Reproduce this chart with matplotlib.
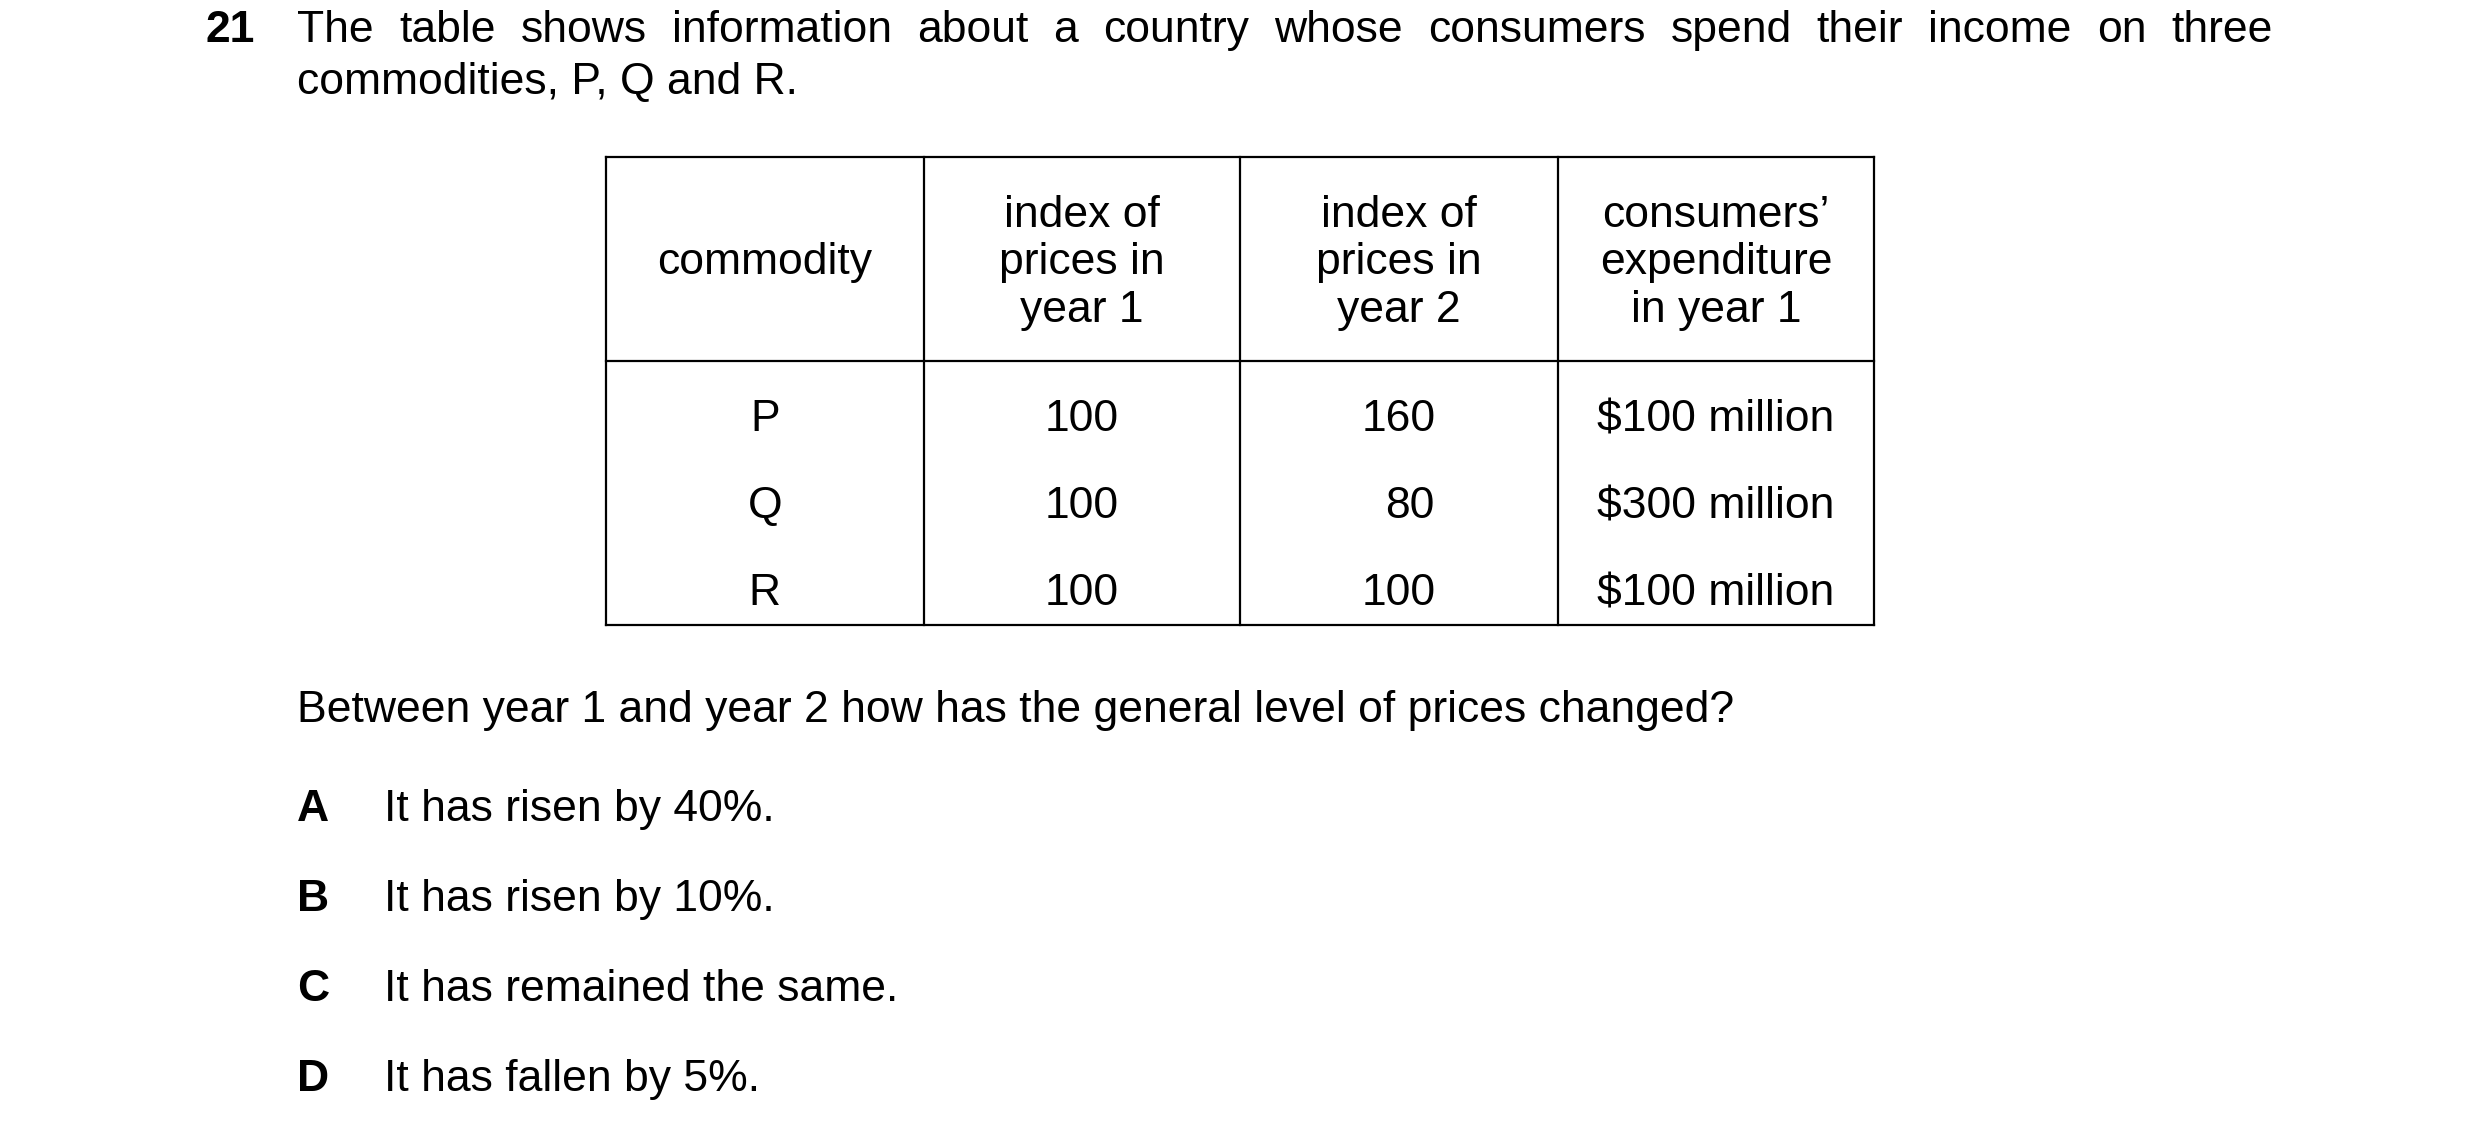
import matplotlib
matplotlib.use("Agg")
import matplotlib.pyplot as plt
from matplotlib.lines import Line2D

plt.rcParams['font.family'] = ['Liberation Sans', 'DejaVu Sans']

# content
q_number = "21"
intro_line1 = "The table shows information about a country whose consumers spend their income on three"
intro_line2 = "commodities, P, Q and R."
headers = ["commodity", "index of\nprices in\nyear 1", "index of\nprices in\nyear 2",
           "consumers’\nexpenditure\nin year 1"]
commodities = ["P", "Q", "R"]
index_year1 = [100, 100, 100]
index_year2 = [160, 80, 100]
expenditure = ["$100 million", "$300 million", "$100 million"]
question = "Between year 1 and year 2 how has the general level of prices changed?"
option_letters = ["A", "B", "C", "D"]
option_texts = ["It has risen by 40%.", "It has risen by 10%.",
                "It has remained the same.", "It has fallen by 5%."]

W, H = 1568.0, 720.0  # layout grid in reference pixels
fig = plt.figure(figsize=(24.8, 11.4), dpi=100)
FS = 32


def fx(x):
    return x / W


def fy(y):
    return 1 - (y + 2) / H


def txt(x, y, s, **kw):
    kw.setdefault('fontsize', FS)
    kw.setdefault('va', 'center')
    return fig.text(fx(x), fy(y), s, **kw)


txt(130, 17, q_number, fontweight='bold')

# justified first line
words = intro_line1.split()
arts = [txt(188, 17, w) for w in words]
fig.canvas.draw()
r = fig.canvas.get_renderer()
widths = [a.get_window_extent(r).width / fig.bbox.width * W for a in arts]
gap = (1437 - 188 - sum(widths)) / (len(words) - 1)
x = 188
for a, w in zip(arts, widths):
    a.set_x(fx(x))
    x += w + gap
txt(188, 50, intro_line2)

# table
cols = [383, 584, 784, 985, 1185]
top, hdr, bot = 99, 228, 395
lw = 1.6
for c in cols:
    fig.add_artist(Line2D([fx(c), fx(c)], [fy(top - 2), fy(bot - 2)], color='black', lw=lw))
for rr in (top, hdr, bot):
    fig.add_artist(Line2D([fx(cols[0]), fx(cols[-1])], [fy(rr - 2), fy(rr - 2)], color='black', lw=lw))
centers = [(cols[i] + cols[i + 1]) / 2 for i in range(4)]
for cx, h in zip(centers, headers):
    txt(cx, 164, h, ha='center', linespacing=1.2)
row_y = [263, 318, 373]
for ry, c, a, b, e in zip(row_y, commodities, index_year1, index_year2, expenditure):
    txt(centers[0], ry, c, ha='center')
    txt(centers[1], ry, str(a), ha='center')
    txt(centers[2] + (7 if b < 100 else 0), ry, str(b), ha='center')
    txt(centers[3], ry, e, ha='center')

txt(188, 447, question)
for oy, l, t in zip([509, 566, 623, 680], option_letters, option_texts):
    txt(188, oy, l, fontweight='bold')
    txt(243, oy, t)

fig.savefig("out.png", dpi=100)
